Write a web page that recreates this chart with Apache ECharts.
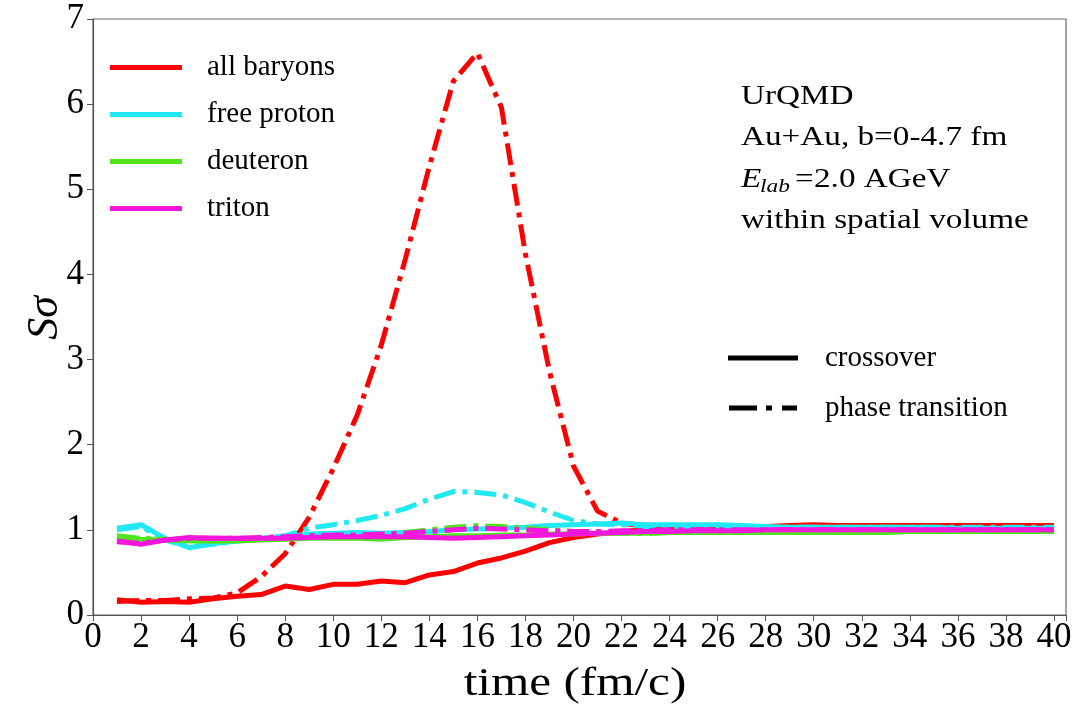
<!DOCTYPE html>
<html><head><meta charset="utf-8">
<script src="https://cdn.jsdelivr.net/npm/echarts@6/dist/echarts.min.js"></script>
<style>html,body{margin:0;padding:0;background:#fff}#c{width:1076px;height:709px}</style>
</head><body><div id="c"></div>
<script>
const times = [1,2,3,4,5,6,7,8,9,10,11,12,13,14,15,16,17,18,19,20,21,22,23,24,25,26,27,28,29,30,31,32,33,34,35,36,37,38,39,40];
const allBaryonsCross = [0.18,0.15,0.16,0.15,0.19,0.22,0.24,0.34,0.30,0.36,0.36,0.40,0.38,0.47,0.51,0.61,0.67,0.75,0.85,0.91,0.95,0.98,1.00,1.01,1.02,1.02,1.03,1.04,1.05,1.06,1.05,1.05,1.05,1.05,1.05,1.05,1.05,1.05,1.05,1.05];
const allBaryonsPT = [0.16,0.17,0.17,0.19,0.20,0.26,0.45,0.72,1.15,1.72,2.35,3.17,4.18,5.27,6.27,6.60,5.96,4.24,2.86,1.75,1.22,1.08,1.04,1.03,1.03,1.03,1.03,1.03,1.03,1.03,1.03,1.03,1.04,1.04,1.05,1.05,1.04,1.04,1.05,1.05];
const protonCross = [1.02,1.06,0.90,0.79,0.84,0.87,0.90,0.92,0.95,0.96,0.97,0.96,0.97,0.98,1.00,1.01,1.02,1.03,1.05,1.06,1.07,1.08,1.06,1.06,1.06,1.06,1.05,1.04,1.03,1.03,1.03,1.03,1.03,1.03,1.03,1.02,1.02,1.02,1.02,1.02];
const protonPT = [1.00,1.04,0.88,0.80,0.83,0.87,0.90,0.93,1.02,1.06,1.11,1.17,1.25,1.36,1.45,1.44,1.41,1.32,1.21,1.11,1.07,1.06,1.04,1.03,1.03,1.03,1.03,1.03,1.03,1.03,1.03,1.03,1.03,1.03,1.03,1.03,1.03,1.03,1.03,1.03];
const deuteronCross = [0.92,0.89,0.88,0.87,0.87,0.87,0.88,0.89,0.90,0.90,0.90,0.89,0.91,0.92,0.93,0.93,0.94,0.94,0.95,0.95,0.96,0.96,0.96,0.97,0.97,0.97,0.97,0.97,0.97,0.97,0.97,0.97,0.97,0.98,0.98,0.98,0.98,0.98,0.98,0.98];
const deuteronPT = [0.93,0.90,0.89,0.88,0.87,0.88,0.89,0.90,0.91,0.92,0.93,0.94,0.97,1.00,1.03,1.05,1.04,1.02,1.00,0.98,0.97,0.96,0.96,0.97,0.97,0.97,0.98,0.98,0.98,0.98,0.98,0.98,0.98,0.98,0.98,0.98,0.98,0.98,0.98,0.98];
const tritonCross = [0.87,0.83,0.88,0.91,0.90,0.90,0.90,0.90,0.91,0.92,0.92,0.92,0.92,0.91,0.90,0.91,0.92,0.93,0.94,0.95,0.96,0.97,0.98,0.98,0.99,0.99,0.99,1.00,1.00,1.00,1.00,1.00,1.00,1.00,1.00,1.00,1.00,1.00,1.00,1.00];
const tritonPT = [0.86,0.84,0.88,0.90,0.90,0.90,0.91,0.92,0.93,0.94,0.94,0.95,0.96,0.98,1.00,1.02,1.01,1.00,0.99,0.98,0.98,0.99,0.99,1.00,1.00,1.00,1.00,1.00,1.00,1.00,1.00,1.00,1.00,1.00,1.00,1.00,1.00,1.00,1.00,1.00];
const speciesNames = ['all baryons','free proton','deuteron','triton'];
const styleNames = ['crossover','phase transition'];
const xTicks = [0,2,4,6,8,10,12,14,16,18,20,22,24,26,28,30,32,34,36,38,40];

const colors = ['#ff0000','#22e8f2','#50e41e','#f316dc'];
const FONT = '"Liberation Serif","DejaVu Serif",serif';
const DASHDOT = [22,7,5,7];
const SX = 1.23;
const pairs = (ys) => times.map((t,i)=>[t,ys[i]]);
const crossData = [allBaryonsCross, protonCross, deuteronCross, tritonCross];
const ptData = [allBaryonsPT, protonPT, deuteronPT, tritonPT];

const series = [];
for (let k=0;k<4;k++){
  series.push({name:speciesNames[k], type:'line', data:pairs(crossData[k]), symbol:'none', color:colors[k],
    lineStyle:{width:5,color:colors[k]}, z:2+k, animation:false});
  series.push({name:speciesNames[k]+' (pt)', type:'line', data:pairs(ptData[k]), symbol:'none', color:colors[k],
    lineStyle:{width:5,color:colors[k],type:DASHDOT}, z:2+k, animation:false});
}
series.push({name:styleNames[0], type:'line', data:[], color:'#000', symbol:'none'});
series.push({name:styleNames[1], type:'line', data:[], color:'#000', symbol:'none'});

const solidIcon = 'path://M0,0H72V5H0Z';
const blackSolidIcon = 'path://M0,0H70V5H0Z';
const dashIcon = 'path://M0,0H28V5H0Z M37,0H43V5H37Z M53,0H68V5H53Z';

function txt(x, y, s, font){
  return {type:'text', x:x, y:y, scaleX:SX, style:{text:s, font:font, fill:'#000', align:'left', verticalAlign:'middle'}};
}

const chart = echarts.init(document.getElementById('c'), null, {renderer:'canvas'});
chart.setOption({
  backgroundColor:'#fff',
  animation:false,
  grid:{left:93, top:19, right:10, bottom:94, show:true, borderColor:'#666', borderWidth:1.2, backgroundColor:'transparent'},
  xAxis:{type:'value', min:0, max:40.5, interval:2,
    axisLine:{lineStyle:{color:'#555',width:1.2}},
    axisTick:{show:true, inside:false, length:6, lineStyle:{color:'#555'}},
    axisLabel:{fontFamily:FONT, fontSize:35, color:'#000', margin:5,
      formatter:(v)=> xTicks.indexOf(v)>=0 ? String(v) : ''},
    splitLine:{show:false}},
  yAxis:{type:'value', min:0, max:7, interval:1,
    axisLine:{show:true,lineStyle:{color:'#555',width:1.2}},
    axisTick:{show:true, inside:false, length:6, lineStyle:{color:'#555'}},
    axisLabel:{fontFamily:FONT, fontSize:35, color:'#000', margin:9},
    splitLine:{show:false}},
  legend:[
    {data:speciesNames.map((n,i)=>({name:n, icon:solidIcon})), orient:'vertical', left:110, top:44, padding:0,
     itemWidth:72, itemHeight:5, itemGap:0, selectedMode:false,
     textStyle:{fontFamily:FONT, fontSize:29, color:'#000', lineHeight:47, padding:[0,0,0,20]}},
    {data:[{name:styleNames[0], icon:blackSolidIcon},{name:styleNames[1], icon:dashIcon}], orient:'vertical', left:728, top:333, padding:0,
     itemWidth:70, itemHeight:5, itemGap:0, selectedMode:false,
     textStyle:{fontFamily:FONT, fontSize:29, color:'#000', lineHeight:50, padding:[0,0,0,22]}}
  ],
  graphic:[
    txt(741, 97, 'UrQMD', '27px '+FONT),
    txt(741, 138, 'Au+Au, b=0-4.7 fm', '27px '+FONT),
    txt(741, 180, 'E', 'italic 27px '+FONT),
    txt(760, 187, 'lab', 'italic 19px '+FONT),
    txt(795, 180, '=', '27px '+FONT),
    txt(814, 180, '2.0 AGeV', '27px '+FONT),
    txt(741, 221, 'within spatial volume', '27px '+FONT),
    {type:'text', x:45, y:318, rotation:Math.PI/2, style:{text:'Sσ', font:'italic 44px '+FONT, fill:'#000', align:'center', verticalAlign:'middle'}},
    {type:'text', x:575, y:684, scaleX:SX, style:{text:'time (fm/c)', font:'40px '+FONT, fill:'#000', align:'center', verticalAlign:'middle'}}
  ],
  series:series
});
</script></body></html>
